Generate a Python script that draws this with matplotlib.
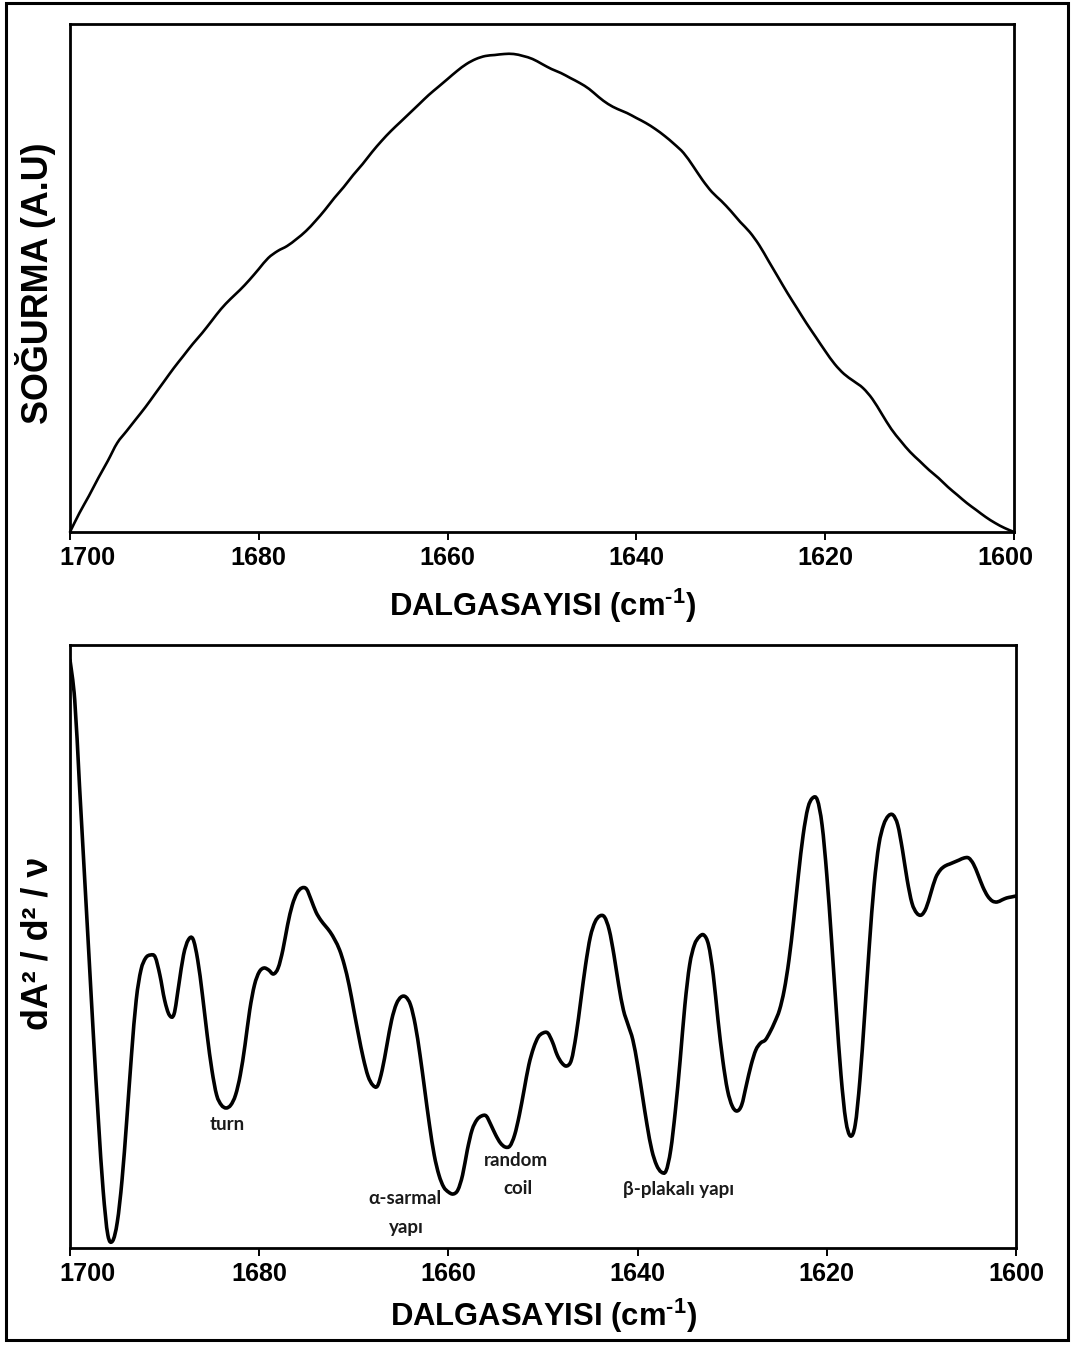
import numpy as np
import matplotlib
matplotlib.use("Agg")
import matplotlib.pyplot as plt
from matplotlib import font_manager
from matplotlib.patches import Rectangle, PathPatch
from matplotlib.path import Path
from matplotlib.transforms import ScaledTranslation

# ---------------- data ----------------
wavenumber_top = np.arange(1700, 1599, -1)          # 1700 ... 1600
absorbance = [
    0, 19, 36, 54, 71, 89, 101, 113, 125, 138,          # 1700-1691
    151, 164, 176, 188, 199, 211, 223, 233, 242, 252,   # 1690-1681
    263, 274, 281, 286, 293, 301, 311, 322, 334, 345,   # 1680-1671
    357, 368, 380, 391, 401, 410, 419, 428, 437, 445,   # 1670-1661
    453, 461, 468, 473, 476, 477, 478, 478, 476, 473,   # 1660-1651
    468, 463, 459, 454, 449, 443, 435, 428, 423, 419,   # 1650-1641
    414, 409, 403, 396, 388, 379, 366, 352, 340, 331,   # 1640-1631
    321, 310, 300, 287, 271, 255, 239, 224, 209, 195,   # 1630-1621
    181, 168, 158, 151, 144, 133, 118, 103, 91, 80,     # 1620-1611
    71, 62, 54, 45, 37, 29, 22, 15, 9, 4,               # 1610-1601
    0,                                                  # 1600
]

wavenumber_bottom = np.arange(1700, 1599.75, -0.5)  # 1700 ... 1600 step 0.5
second_derivative = [
    588, 548, 463, 378, 293, 208, 128, 58, 13, 7,
    26, 68, 128, 193, 248, 278, 290, 293, 291, 273,
    248, 233, 234, 263, 293, 308, 309, 288, 253, 213,
    178, 153, 143, 140, 143, 153, 173, 203, 238, 263,
    276, 280, 278, 274, 280, 298, 323, 343, 355, 360,
    359, 348, 336, 328, 322, 316, 308, 298, 283, 263,
    238, 213, 190, 172, 163, 162, 178, 203, 228, 244,
    251, 251, 243, 223, 193, 158, 123, 93, 73, 61,
    56, 54, 58, 73, 98, 118, 128, 132, 132, 123,
    113, 105, 101, 102, 113, 133, 158, 183, 200, 211,
    215, 215, 206, 193, 185, 182, 188, 213, 248, 283,
    311, 326, 332, 331, 318, 293, 263, 238, 223, 208,
    183, 153, 123, 98, 83, 76, 77, 98, 138, 188,
    243, 283, 303, 311, 313, 303, 273, 228, 188, 158,
    142, 137, 143, 163, 183, 198, 205, 208, 216, 226,
    238, 258, 288, 328, 373, 413, 440, 450, 448, 423,
    373, 308, 238, 173, 128, 112, 123, 168, 233, 303,
    363, 403, 423, 432, 433, 423, 398, 368, 345, 335,
    333, 340, 355, 370, 378, 382, 384, 386, 388, 390,
    390, 384, 373, 361, 352, 347, 346, 348, 350, 351,
    352,
]

x_ticks = [1700, 1680, 1660, 1640, 1620, 1600]
x_label = "DALGASAYISI (cm$^{\u2010\\mathbf{1}}$)"
y_label_top = "SOĞURMA (A.U)"
y_label_bottom = "dA² / d² / ν"

annotation_texts = ["turn", "α-sarmal", "yapı", "random", "coil", "β-plakalı yapı"]
annotation_wn = [1683.4, 1664.6, 1664.4, 1652.9, 1652.7, 1635.7]
annotation_val = [124, 50, 20, 88, 59, 59]

# ---------------- fonts ----------------
def has_font(name):
    try:
        font_manager.findfont(font_manager.FontProperties(family=name),
                              fallback_to_default=False)
        return True
    except Exception:
        return False

NARROW = has_font("Liberation Sans Narrow")
BOLD_FAMILY = "Liberation Sans Narrow" if NARROW else "Liberation Sans"
k = 1.0 if NARROW else 0.86

plt.rcParams["mathtext.fontset"] = "custom"
plt.rcParams["mathtext.rm"] = BOLD_FAMILY + ":bold"
plt.rcParams["mathtext.bf"] = BOLD_FAMILY + ":bold"
plt.rcParams["mathtext.it"] = BOLD_FAMILY + ":bold"

tick_fs = 21 * k
xlabel_fs = 26 * k
ylabel_fs = 30 * k
ylabel2_fs = 30 * k


def smooth_path(x, y):
    """Catmull-Rom curve through the data points, as cubic Bezier segments."""
    x = np.asarray(x, float)
    y = np.asarray(y, float)
    pts = np.column_stack([x, y])
    verts = [pts[0]]
    codes = [Path.MOVETO]
    n = len(pts)
    for i in range(n - 1):
        p0 = pts[i - 1] if i > 0 else pts[i]
        p1 = pts[i]
        p2 = pts[i + 1]
        p3 = pts[i + 2] if i + 2 < n else pts[i + 1]
        c1 = p1 + (p2 - p0) / 6.0
        c2 = p2 - (p3 - p1) / 6.0
        verts += [c1, c2, p2]
        codes += [Path.CURVE4] * 3
    return Path(np.array(verts), codes)


# ---------------- figure ----------------
W, H = 1074, 1346
fig = plt.figure(figsize=(W / 100, H / 100), dpi=100)
fig.patch.set_facecolor("white")

fig.patches.append(Rectangle((6 / W, 1 - 1340 / H), (1068 - 6) / W, (1340 - 3) / H,
                             transform=fig.transFigure, fill=False,
                             edgecolor="black", linewidth=2.2))

ax1 = fig.add_axes([70 / W, 1 - 532 / H, (1014 - 70) / W, (532 - 24) / H])
ax2 = fig.add_axes([70 / W, 1 - 1248 / H, (1016 - 70) / W, (1248 - 645) / H])

ax1.add_patch(PathPatch(smooth_path(wavenumber_top, absorbance), facecolor="none",
                        edgecolor="black", linewidth=1.9, capstyle="round",
                        joinstyle="round", clip_on=False))
ax1.set_ylim(0, 508)

ax2.add_patch(PathPatch(smooth_path(wavenumber_bottom, second_derivative),
                        facecolor="none", edgecolor="black", linewidth=2.6,
                        capstyle="round", joinstyle="round"))
ax2.set_ylim(0, 603)

for ax in (ax1, ax2):
    ax.set_xlim(1700, 1600)
    ax.set_xticks(x_ticks)
    ax.set_xticklabels([str(t) for t in x_ticks])
    ax.set_yticks([])
    for sp in ax.spines.values():
        sp.set_linewidth(2.0)
    ax.tick_params(axis="x", direction="out", length=6, width=1.4, pad=4,
                   labelsize=tick_fs)
    for lab in ax.get_xticklabels():
        lab.set_fontfamily(BOLD_FAMILY)
        lab.set_fontweight("bold")
    ax.set_xlabel(x_label, fontsize=xlabel_fs, fontweight="bold",
                  family=BOLD_FAMILY)

ax1.xaxis.set_label_coords(0.5, -0.108)
ax2.xaxis.set_label_coords(0.5, -0.080)

ax1.set_ylabel(y_label_top, fontsize=ylabel_fs, fontweight="bold", family=BOLD_FAMILY)
ax1.yaxis.set_label_coords(-0.015, 0.49)
ax2.set_ylabel(y_label_bottom, fontsize=ylabel2_fs, fontweight="bold",
               family=[BOLD_FAMILY, "DejaVu Sans"])
ax2.yaxis.set_label_coords(-0.015, 0.505)


def shift_label(ax, idx, dx_px):
    tick = ax.xaxis.get_major_ticks()[idx]
    tick.label1.set_transform(tick.label1.get_transform()
                              + ScaledTranslation(dx_px / 100, 0, fig.dpi_scale_trans))


shift_label(ax1, 0, 17)
shift_label(ax2, 0, 17)
shift_label(ax1, 5, -9)

for txt, wn, val in zip(annotation_texts, annotation_wn, annotation_val):
    ax2.text(wn, val, txt, ha="center", va="center", fontsize=13.5,
             family=["Lato", "DejaVu Sans"], color="#1a1a1a", fontweight="bold")

fig.savefig("out.png", dpi=100, facecolor="white")
